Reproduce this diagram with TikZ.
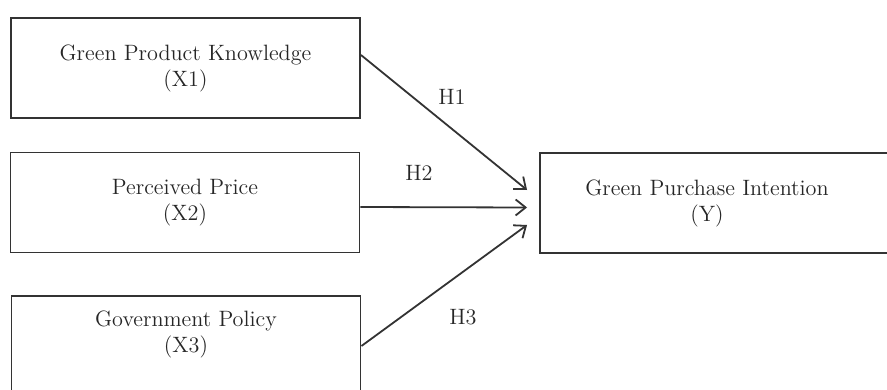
\documentclass[tikz,border=0pt]{standalone}
\usetikzlibrary{arrows.meta}
\tikzset{
  box/.style={draw=black!80, line width=0.95pt, minimum width=174.5pt, minimum height=50pt,
    font=\fontsize{11.1}{13}\selectfont, align=center, text=black!85},
  hyp/.style={draw=black!80, line width=0.9pt, -{Straight Barb[length=5pt,width=8pt]}},
  hlabel/.style={font=\fontsize{11.1}{13}\selectfont, text=black!85}
}
\begin{document}
\begin{tikzpicture}[x=0.5pt,y=-0.5pt]
    \useasboundingbox (0,0) rectangle (887,390);
    \clip (0,0) rectangle (887,390);
    \node[box] (x1) at (185.5,68) {Green Product Knowledge\\(X1)};
    \node[box] (x2) at (185,202.5) {Perceived Price\\(X2)};
    \node[box, label={[box, draw=none, minimum width=0pt, minimum height=0pt, yshift=6pt]center:Government Policy\\(X3)}] (x3) at (186,346) {};
    \node[box, minimum width=180pt, label={[box, draw=none, minimum width=0pt, minimum height=0pt, xshift=-6.5pt]center:Green Purchase Intention\\(Y)}] (y) at (720,203) {};
    \draw[hyp] ([yshift=6.5pt]x1.east) -- ([xshift=-6pt,yshift=6.5pt]y.west);
    \draw[hyp] ([yshift=-2.25pt]x2.east) -- ([xshift=-6pt,yshift=-2.25pt]y.west);
    \draw[hyp] (x3.east) -- ([xshift=-6pt,yshift=-11pt]y.west);
    \node[hlabel] (h1) at (452,97) {H1};
    \node[hlabel] (h2) at (419,173) {H2};
    \node[hlabel] (h3) at (463,317) {H3};
\end{tikzpicture}
\end{document}
